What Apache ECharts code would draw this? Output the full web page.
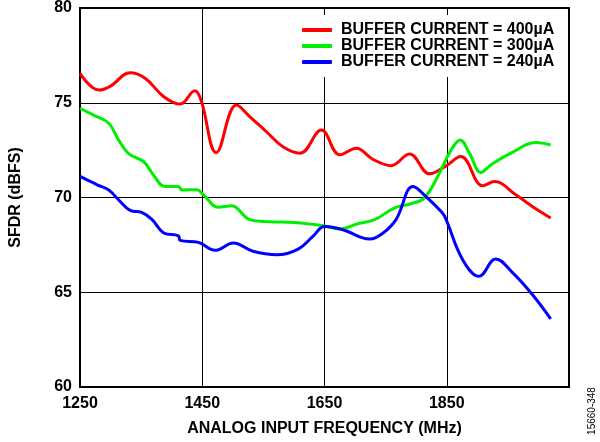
<!DOCTYPE html>
<html><head><meta charset="utf-8">
<script src="https://cdn.jsdelivr.net/npm/echarts@6/dist/echarts.min.js"></script>
<style>html,body{margin:0;padding:0;background:#fff}#c{width:600px;height:442px}</style>
</head><body><div id="c"></div>
<script>
const seriesNames = ['BUFFER CURRENT = 400µA','BUFFER CURRENT = 300µA','BUFFER CURRENT = 240µA'];
const xTicks = [1250,1450,1650,1850];
const red = [[1250,76.55],[1281,75.67],[1300,75.88],[1332,76.58],[1357,76.28],[1387,75.32],[1414,74.93],[1438,75.63],[1448,75.14],[1473,72.37],[1506,74.88],[1528,74.26],[1555,73.47],[1582,72.68],[1610,72.34],[1645,73.56],[1675,72.25],[1702,72.6],[1729,72.02],[1759,71.68],[1789,72.3],[1822,71.25],[1849,71.67],[1873,72.16],[1909,70.62],[1928,70.84],[1963,70.14],[1990,69.53],[2020,68.92]];
const green = [[1250,74.71],[1272,74.35],[1297,73.92],[1313,73.04],[1330,72.3],[1354,71.9],[1370,71.19],[1389,70.58],[1411,70.58],[1417,70.4],[1441,70.41],[1452,70.14],[1476,69.49],[1498,69.56],[1528,68.83],[1560,68.72],[1600,68.68],[1650,68.5],[1675,68.34],[1705,68.62],[1732,68.83],[1764,69.44],[1791,69.67],[1813,69.97],[1835,71.1],[1857,72.5],[1872,73.04],[1887,72.34],[1906,71.32],[1922,71.72],[1955,72.34],[1996,72.9],[2020,72.77]];
const blue = [[1250,71.11],[1278,70.67],[1297,70.4],[1313,69.88],[1332,69.32],[1351,69.21],[1368,68.83],[1387,68.13],[1411,67.98],[1414,67.74],[1444,67.63],[1471,67.21],[1501,67.6],[1533,67.16],[1572,66.98],[1607,67.28],[1631,67.95],[1650,68.47],[1680,68.3],[1724,67.81],[1746,68.13],[1767,68.83],[1795,70.58],[1816,70.05],[1843,69.18],[1849,68.83],[1876,66.72],[1903,65.84],[1930,66.76],[1958,66.02],[1990,64.88],[2020,63.6]];
const colors = ['#ff0000','#00ee00','#0000ff'];
const font = "'Liberation Sans', Arial, sans-serif";
const chart = echarts.init(document.getElementById('c'));
chart.setOption({
  animation:false,
  backgroundColor:'#fff',
  grid:{left:80,right:31,top:8,bottom:54,show:true,borderColor:'#000',borderWidth:2,backgroundColor:'transparent'},
  xAxis:{type:'value',min:1250,max:2050,interval:200,
    name:'ANALOG INPUT FREQUENCY (MHz)',nameLocation:'middle',nameGap:34,
    nameTextStyle:{fontFamily:font,fontWeight:'bold',fontSize:16,color:'#000'},
    axisLine:{lineStyle:{color:'#000',width:2}},axisTick:{show:false},
    axisLabel:{margin:9,fontFamily:font,fontWeight:'bold',fontSize:16,color:'#000',
      formatter:v=>xTicks.includes(v)?String(v):''},
    splitLine:{show:true,lineStyle:{color:'#000',width:1}}},
  yAxis:{type:'value',min:60,max:80,interval:5,
    name:'SFDR (dBFS)',nameLocation:'middle',nameGap:56,
    nameTextStyle:{fontFamily:font,fontWeight:'bold',fontSize:16,color:'#000'},
    axisLine:{show:true,lineStyle:{color:'#000',width:2}},axisTick:{show:false},
    axisLabel:{margin:8,fontFamily:font,fontWeight:'bold',fontSize:16,color:'#000'},
    splitLine:{show:true,lineStyle:{color:'#000',width:1}}},
  legend:{orient:'vertical',left:298,top:15,itemGap:0,itemWidth:30,itemHeight:4,
    backgroundColor:'#fff',padding:[7,6,7,4],icon:'roundRect',
    textStyle:{fontFamily:font,fontWeight:'bold',fontSize:16,lineHeight:16,color:'#000',padding:[0,0,0,4]},
    data:seriesNames},
  graphic:[{type:'text',x:592,y:411,rotation:Math.PI/2,
    style:{text:'15660-348',fontFamily:font,fontSize:10,fill:'#000',align:'center',verticalAlign:'middle'}}],
  series:[red,green,blue].map((d,i)=>({name:seriesNames[i],type:'line',data:d,smooth:0.4,showSymbol:false,symbol:'none',
    lineStyle:{color:colors[i],width:3},itemStyle:{color:colors[i]}}))
});
</script></body></html>
